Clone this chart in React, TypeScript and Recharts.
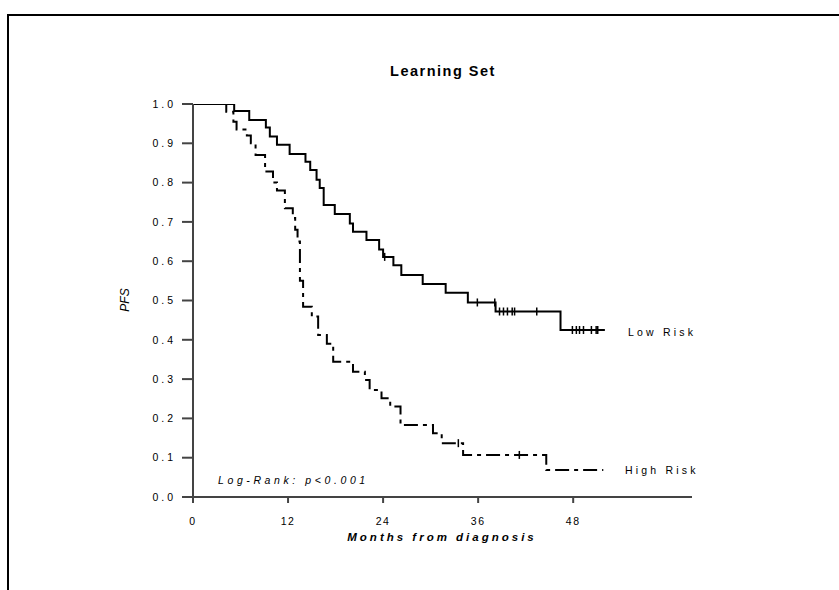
import React from 'react';
import { ComposedChart, Line, Scatter, XAxis, YAxis } from 'recharts';

const lowRiskMonths = [0, 5.2, 7.1, 9.2, 9.7, 10.6, 12.2, 14.2, 14.8, 15.6, 16.0, 16.5, 17.9, 19.8, 20.2, 21.9, 23.5, 24.0, 25.3, 26.3, 29.0, 31.9, 34.7, 38.2, 46.4, 52.0];
const lowRiskPFS = [1.0, 0.982, 0.959, 0.94, 0.917, 0.896, 0.873, 0.853, 0.832, 0.807, 0.786, 0.743, 0.72, 0.696, 0.675, 0.654, 0.63, 0.611, 0.59, 0.565, 0.542, 0.52, 0.495, 0.472, 0.425, 0.425];

const highRiskMonths = [0, 4.2, 5.1, 5.5, 6.8, 7.3, 7.9, 9.1, 10.1, 10.6, 11.6, 12.6, 12.9, 13.2, 13.5, 13.9, 15.0, 15.8, 16.9, 17.7, 20.2, 21.7, 22.3, 23.8, 24.9, 26.2, 30.3, 31.4, 34.1, 44.6, 51.8];
const highRiskPFS = [1.0, 0.98, 0.955, 0.935, 0.92, 0.9, 0.87, 0.828, 0.8, 0.78, 0.735, 0.71, 0.68, 0.65, 0.55, 0.484, 0.459, 0.412, 0.39, 0.344, 0.319, 0.298, 0.272, 0.251, 0.23, 0.183, 0.162, 0.137, 0.107, 0.069, 0.069];

const lowCensorMonths = [24.2, 35.9, 38.1, 38.7, 39.2, 39.7, 40.3, 40.6, 43.4, 47.9, 48.4, 48.8, 49.3, 50.3, 50.9, 51.1];
const lowCensorPFS = [0.611, 0.495, 0.495, 0.472, 0.472, 0.472, 0.472, 0.472, 0.472, 0.425, 0.425, 0.425, 0.425, 0.425, 0.425, 0.425];

const highCensorMonths = [33.5, 41.2];
const highCensorPFS = [0.137, 0.107];

const xTicks = [0, 12, 24, 36, 48];
const yTicks = [0, 0.1, 0.2, 0.3, 0.4, 0.5, 0.6, 0.7, 0.8, 0.9, 1.0];

const title = 'Learning Set';
const xLabel = 'Months from diagnosis';
const yLabel = 'PFS';
const lowLabel = 'Low Risk';
const highLabel = 'High Risk';
const testLabel = 'Log-Rank: p<0.001';

const zip = (m: number[], v: number[]) => m.map((month, i) => ({ month, pfs: v[i] }));

const lowData = zip(lowRiskMonths, lowRiskPFS);
const highData = zip(highRiskMonths, highRiskPFS);
const lowCensor = zip(lowCensorMonths, lowCensorPFS);
const highCensor = zip(highCensorMonths, highCensorPFS);

const CensorTick = (props: any) => {
  const { cx, cy } = props;
  if (cx == null || cy == null) return null;
  return (
    <g>
      <line x1={cx} y1={cy - 4} x2={cx} y2={cy + 4} stroke="#000" strokeWidth={1.5} />
    </g>
  );
};

const FONT = '"Liberation Sans", Arial, sans-serif';

export default function App() {
  return (
    <div style={{ position: 'absolute', left: 0, top: 0, width: 839, height: 590, background: '#fff', overflow: 'hidden' }}>
      <div style={{ position: 'absolute', left: 7, top: 14, width: 860, height: 600, borderTop: '2px solid #000', borderLeft: '2px solid #000' }} />
      <div style={{ position: 'absolute', left: 0, top: 0 }}>
        <ComposedChart width={839} height={590} margin={{ top: 104, right: 147, bottom: 0, left: 0 }}>
          <XAxis
            dataKey="month"
            type="number"
            domain={[0, 63]}
            ticks={xTicks}
            height={93}
            tickSize={6}
            tickMargin={15}
            axisLine={{ stroke: '#444', strokeWidth: 2 }}
            tickLine={{ stroke: '#444', strokeWidth: 2 }}
            tick={{ fill: '#000', fontSize: 10.5, fontFamily: FONT, letterSpacing: 1.5 }}
            allowDataOverflow
          />
          <YAxis
            dataKey="pfs"
            type="number"
            domain={[0, 1]}
            ticks={yTicks}
            width={193}
            tickSize={11}
            tickMargin={6}
            tickFormatter={(v: number) => v.toFixed(1)}
            axisLine={{ stroke: '#444', strokeWidth: 2 }}
            tickLine={{ stroke: '#444', strokeWidth: 2 }}
            tick={{ fill: '#000', fontSize: 10.5, fontFamily: FONT, letterSpacing: 3 }}
            allowDataOverflow
          />
          <Line
            data={lowData}
            dataKey="pfs"
            type="stepAfter"
            stroke="#000"
            strokeWidth={2}
            dot={false}
            activeDot={false}
            isAnimationActive={false}
          />
          <Line
            data={highData}
            dataKey="pfs"
            type="stepAfter"
            stroke="#000"
            strokeWidth={2}
            strokeDasharray="14 5 4 5"
            dot={false}
            activeDot={false}
            isAnimationActive={false}
          />
          <Scatter data={lowCensor} dataKey="pfs" shape={CensorTick} isAnimationActive={false} />
          <Scatter data={highCensor} dataKey="pfs" shape={CensorTick} isAnimationActive={false} />
        </ComposedChart>
      </div>
      <svg width={839} height={590} style={{ position: 'absolute', left: 0, top: 0, pointerEvents: 'none' }}>
        <text x={443} y={76} textAnchor="middle" fontFamily={FONT} fontWeight="bold" fontSize={14.5} letterSpacing={1.5} fill="#000">{title}</text>
        <text x={442} y={541} textAnchor="middle" fontFamily={FONT} fontWeight="bold" fontStyle="italic" fontSize={11.5} letterSpacing={3} fill="#000">{xLabel}</text>
        <text x={129} y={300} textAnchor="middle" fontFamily={FONT} fontStyle="italic" fontSize={12} fill="#000" transform="rotate(-90 129 300)">{yLabel}</text>
        <text x={628} y={336} fontFamily={FONT} fontSize={10.5} letterSpacing={3.2} fill="#000">{lowLabel}</text>
        <text x={625} y={474} fontFamily={FONT} fontSize={10.5} letterSpacing={3.2} fill="#000">{highLabel}</text>
        <text x={218} y={484} fontFamily={FONT} fontStyle="italic" fontSize={10.5} letterSpacing={3.6} fill="#000">{testLabel}</text>
      </svg>
    </div>
  );
}
